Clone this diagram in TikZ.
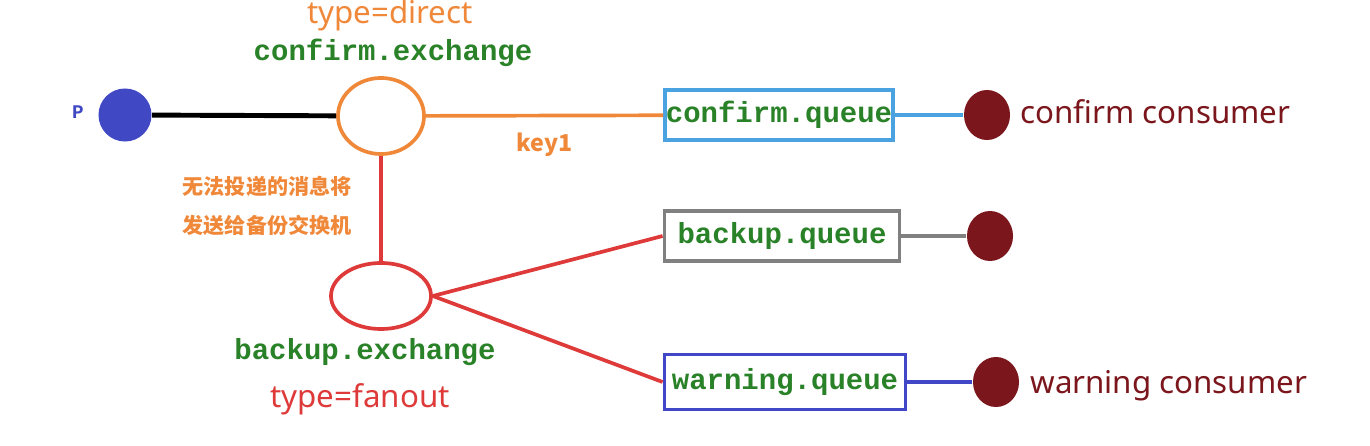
\documentclass[tikz,border=0pt]{standalone}
\usepackage{fontspec}
\setmainfont{Noto Sans}
\setmonofont{Liberation Mono}
\newfontfamily\cjk{Noto Sans CJK SC}
\usetikzlibrary{shapes.geometric}
\definecolor{qgreen}{RGB}{42,130,40}
\definecolor{xorange}{RGB}{240,136,58}
\definecolor{xred}{RGB}{222,58,58}
\definecolor{cred}{RGB}{122,22,28}
\definecolor{pblue}{RGB}{64,72,196}
\definecolor{lblue}{RGB}{74,163,224}
\definecolor{wblue}{RGB}{64,72,200}
\newcommand{\qfont}{\fontsize{8.25}{10}\selectfont\ttfamily\bfseries}
\newcommand{\lfont}{\fontsize{8.9}{11}\selectfont}

\begin{document}
\begin{tikzpicture}[x=0.01cm, y=-0.01cm,
    qbox/.style={draw, line width=1.05pt, minimum height=0.5cm, inner sep=0pt, font=\qfont, text=qgreen},
    xnode/.style={ellipse, draw, line width=1.05pt, inner sep=0pt},
    cnode/.style={ellipse, fill=cred, minimum width=0.46cm, minimum height=0.5cm, inner sep=0pt}]
    \useasboundingbox (0,0) rectangle (1370,446);

    \node [circle, fill=pblue, minimum size=0.53cm, inner sep=0pt] (p) at (125,115) {};
    \node [font=\fontsize{5.5}{6}\selectfont\ttfamily\bfseries, text=pblue] (plabel) at (78,112) {P};

    \node [xnode] [draw=xorange] [minimum width=0.86cm] [minimum height=0.76cm] (cfx) at (381,116) {};
    \node [font=\qfont, text=qgreen] (cfxname) at (393,53) {confirm.exchange};
    \node [font=\lfont, text=xorange] (cfxtype) at (390,15) {type=direct};

    \node [xnode] [draw=xred] [minimum width=1cm] [minimum height=0.66cm] (bkx) at (381,296) {};
    \node [font=\qfont, text=qgreen] (bkxname) at (365,352) {backup.exchange};
    \node [font=\lfont, text=xred] (bkxtype) at (360,399) {type=fanout};

    \node [font=\cjk\fontsize{6}{11.1}\selectfont\bfseries, text=xorange, align=right, anchor=east] (note) at (364,206)
        {无法投递的消息将\\发送给备份交换机};

    \node [qbox] [draw=lblue] [minimum width=2.28cm] (cfq) at (779,115) {confirm.queue};
    \node [qbox] [draw=gray]  [minimum width=2.35cm] (bkq) at (782,236) {backup.queue};
    \node [qbox] [draw=wblue] [minimum width=2.41cm] [minimum height=0.55cm] (wnq) at (785,382) {warning.queue};

    \node [cnode] (cfc) at (987,115) {};
    \node [cnode] (bkc) at (990,236) {};
    \node [cnode] (wnc) at (996,382) {};
    \node [font=\lfont, text=cred, anchor=west] (cfcname) at (1008,112) {confirm consumer};
    \node [font=\lfont, text=cred, anchor=west] (wncname) at (1018,386) {warning consumer};

    \draw [black, line width=1.4pt] (p) to (cfx);

    \draw [xorange, line width=1.05pt] (cfx) to
        node[midway, below, font=\cjk\fontsize{6.6}{8}\selectfont\bfseries, text=xorange, yshift=-1pt] (key) {key1}
        (cfq);

    \draw [xred, line width=1.05pt] (cfx) to (bkx);
    \draw [xred, line width=1.05pt] (bkx.east) to (bkq.west);
    \draw [xred, line width=1.05pt] (bkx.east) to (wnq.west);

    \draw [lblue, line width=1.05pt] (cfq) to (cfc);
    \draw [gray, line width=1.05pt] (bkq) to (bkc);
    \draw [wblue, line width=1.05pt] (wnq) to (wnc);

\end{tikzpicture}
\end{document}
